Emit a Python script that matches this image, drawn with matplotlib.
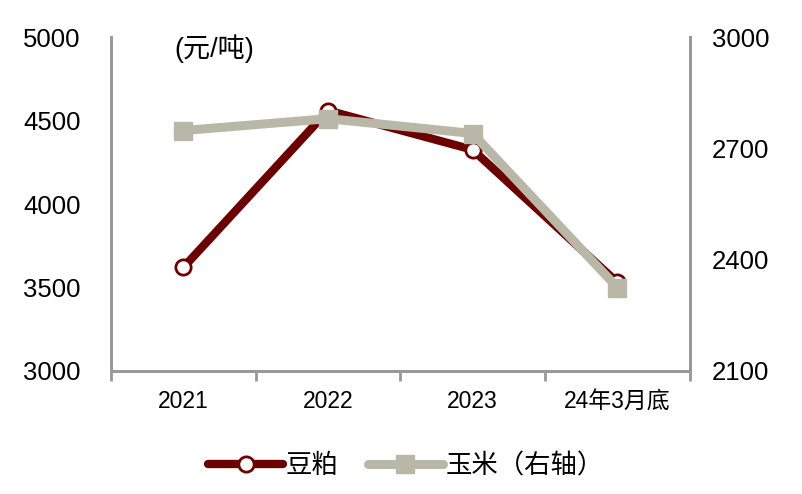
"""Soybean meal vs corn price chart (dual axis)."""

import matplotlib

matplotlib.use("Agg")
import matplotlib.pyplot as plt
from matplotlib.ticker import FixedLocator

CATEGORIES = ["2021", "2022", "2023", "24年3月底"]
SOYMEAL = [3620, 4560, 4325, 3530]
CORN = [2748, 2780, 2740, 2325]
LEFT_TICKS = [3000, 3500, 4000, 4500, 5000]
RIGHT_TICKS = [2100, 2400, 2700, 3000]

SOY_COLOR = "#6B0000"
CORN_COLOR = "#B9B8A8"
SPINE_COLOR = "#999999"

plt.rcParams["font.family"] = ["Liberation Sans", "Noto Sans CJK SC", "DejaVu Sans"]

fig = plt.figure(figsize=(8.02, 4.94), dpi=100)
ax = fig.add_axes([0.1384, 0.249, 0.7216, 0.676])
ax2 = ax.twinx()

x = list(range(len(CATEGORIES)))
(l1,) = ax.plot(x, SOYMEAL, color=SOY_COLOR, lw=6, marker="o", ms=11,
                mfc="white", mec=SOY_COLOR, mew=2, label="豆粕", zorder=3,
                solid_capstyle="round")
(l2,) = ax2.plot(x, CORN, color=CORN_COLOR, lw=6.5, marker="s", ms=13,
                 mfc=CORN_COLOR, mec=CORN_COLOR, label="玉米（右轴）", zorder=4,
                 solid_capstyle="round")

ax.set_xlim(-0.5, len(CATEGORIES) - 0.5)
ax.set_ylim(3000, 5000)
ax2.set_ylim(2100, 3000)
ax.set_yticks(LEFT_TICKS)
ax2.set_yticks(RIGHT_TICKS)
ax.set_xticks(x)
ax.set_xticklabels(CATEGORIES, fontsize=16.5)
ax.xaxis.set_minor_locator(FixedLocator([i - 0.5 for i in range(len(CATEGORIES) + 1)]))
ax.tick_params(axis="x", which="major", length=0, pad=14)
ax.tick_params(axis="x", which="minor", length=7, width=2, color=SPINE_COLOR, direction="out")
ax.tick_params(axis="y", length=0, labelsize=18.5, pad=22)
ax2.tick_params(axis="y", length=0, labelsize=18.5, pad=16)

for a in (ax, ax2):
    a.spines["top"].set_visible(False)
    for s in ("left", "right", "bottom"):
        a.spines[s].set_color(SPINE_COLOR)
        a.spines[s].set_linewidth(2)

ax.text(0.11, 1.008, "(元/吨)", transform=ax.transAxes, fontsize=19.5, va="top", ha="left")

fig.legend(handles=[l1, l2], loc="center", bbox_to_anchor=(0.506, 0.057), ncol=2,
           frameon=False, fontsize=19, handlelength=2.85, columnspacing=1.1,
           handletextpad=0.1)

fig.savefig("out.png", dpi=100)
